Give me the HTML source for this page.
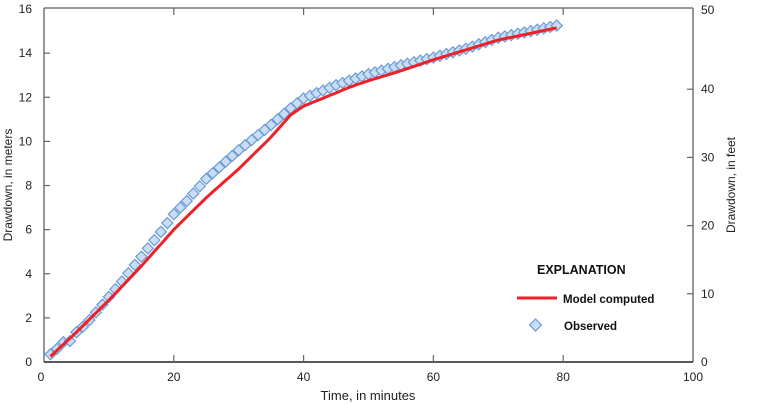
<!DOCTYPE html>
<html><head><meta charset="utf-8"><style>
html,body{margin:0;padding:0;background:#fff;}
svg{display:block;font-family:"Liberation Sans Narrow","Liberation Sans",sans-serif;}
</style></head><body>
<svg id="s" width="768" height="405" viewBox="0 0 768 405" xmlns="http://www.w3.org/2000/svg">
<g stroke="#777" stroke-width="1.5" fill="none">
<line x1="44" y1="8" x2="693" y2="8"/>
<line x1="44" y1="8" x2="44" y2="362"/>
<line x1="693" y1="8" x2="693" y2="362"/>
</g>
<line x1="44" y1="362" x2="693" y2="362" stroke="#222" stroke-width="1.5"/>
<g id="ticks" stroke="#666" stroke-width="1.2"></g>
<g id="labels" font-size="12" fill="#222"></g>
<text x="12" y="185" font-size="12" fill="#222" text-anchor="middle" transform="rotate(-90 12 185)">Drawdown, in meters</text>
<text x="735" y="185" font-size="12" fill="#222" text-anchor="middle" transform="rotate(-90 735 185)">Drawdown, in feet</text>
<text x="368" y="400" font-size="13" fill="#222" text-anchor="middle">Time, in minutes</text>
<g id="obs"></g>
<polyline id="model" fill="none" stroke="#ee2028" stroke-width="3" stroke-linejoin="round"/>
<text x="537" y="274" font-size="12.5" font-weight="bold" fill="#111">EXPLANATION</text>
<line x1="517" y1="298" x2="557" y2="298" stroke="#ee2028" stroke-width="3"/>
<text x="563" y="303" font-size="11.5" font-weight="bold" fill="#111">Model computed</text>
<path d="M535.5 319 L541.5 325 L535.5 331 L529.5 325 Z" fill="#c9def4" stroke="#6a9bd4" stroke-width="1.2"/>
<text x="564" y="330" font-size="11.5" font-weight="bold" fill="#111">Observed</text>
</svg>
<script>
var X=function(t){return 44+t*6.49},Y=function(m){return 362-m*22.06};
var ns="http://www.w3.org/2000/svg";
function el(p,n,a,txt){var e=document.createElementNS(ns,n);for(var k in a)e.setAttribute(k,a[k]);if(txt!=null)e.textContent=txt;document.getElementById(p).appendChild(e);}
for(var m=0;m<=16;m+=2){var y=Y(m);if(m>0&&m<16)el("ticks","line",{x1:44,y1:y,x2:50,y2:y});el("labels","text",{x:32,y:y+4,"text-anchor":"end"},m);}
for(var t=0;t<=100;t+=20){var x=X(t);if(t>0&&t<100){el("ticks","line",{x1:x,y1:362,x2:x,y2:355});el("ticks","line",{x1:x,y1:8,x2:x,y2:15});}el("labels","text",{x:x-(t==0?3:0),y:381,"text-anchor":"middle"},t);}
for(var f=0;f<=50;f+=10){var y=362-f*6.82;if(f==50)y=10;if(f>0&&f<50)el("ticks","line",{x1:693,y1:y,x2:687,y2:y});el("labels","text",{x:701,y:y+4},f);}
function interp(pts,t){for(var i=0;i<pts.length-1;i++){if(t<=pts[i+1][0]){var a=pts[i],b=pts[i+1];return a[1]+(b[1]-a[1])*(t-a[0])/(b[0]-a[0]);}}return pts[pts.length-1][1];}
var ob=[[1,0.35],[2,0.6],[3,0.9],[4,0.95],[5,1.35],[6,1.6],[7,1.9],[8,2.25],[9,2.6],[10,2.95],[12,3.65],[14,4.4],[16,5.15],[18,5.9],[20,6.7],[22,7.3],[25,8.3],[30,9.6],[35,10.75],[38,11.5],[40,11.95],[45,12.55],[50,13.05],[55,13.45],[60,13.8],[65,14.2],[70,14.7],[75,15.0],[79,15.25]];
var md=[[1,0.25],[5,1.35],[10,2.8],[15,4.35],[20,6.0],[25,7.45],[30,8.75],[35,10.2],[38,11.2],[40,11.6],[45,12.2],[47,12.45],[50,12.75],[55,13.2],[60,13.7],[65,14.15],[70,14.6],[75,14.9],[79,15.15]];
for(var t=1;t<=79;t++){var x=X(t),y=Y(interp(ob,t));el("obs","path",{d:"M"+x+" "+(y-5.5)+" L"+(x+5.5)+" "+y+" L"+x+" "+(y+5.5)+" L"+(x-5.5)+" "+y+" Z",fill:"#c9def4",stroke:"#6a9bd4","stroke-width":"1.2"});}
var p=[];for(var t=1;t<=79;t+=0.5)p.push(X(t).toFixed(1)+","+Y(interp(md,t)).toFixed(1));
document.getElementById("model").setAttribute("points",p.join(" "));
</script>
</body></html>
